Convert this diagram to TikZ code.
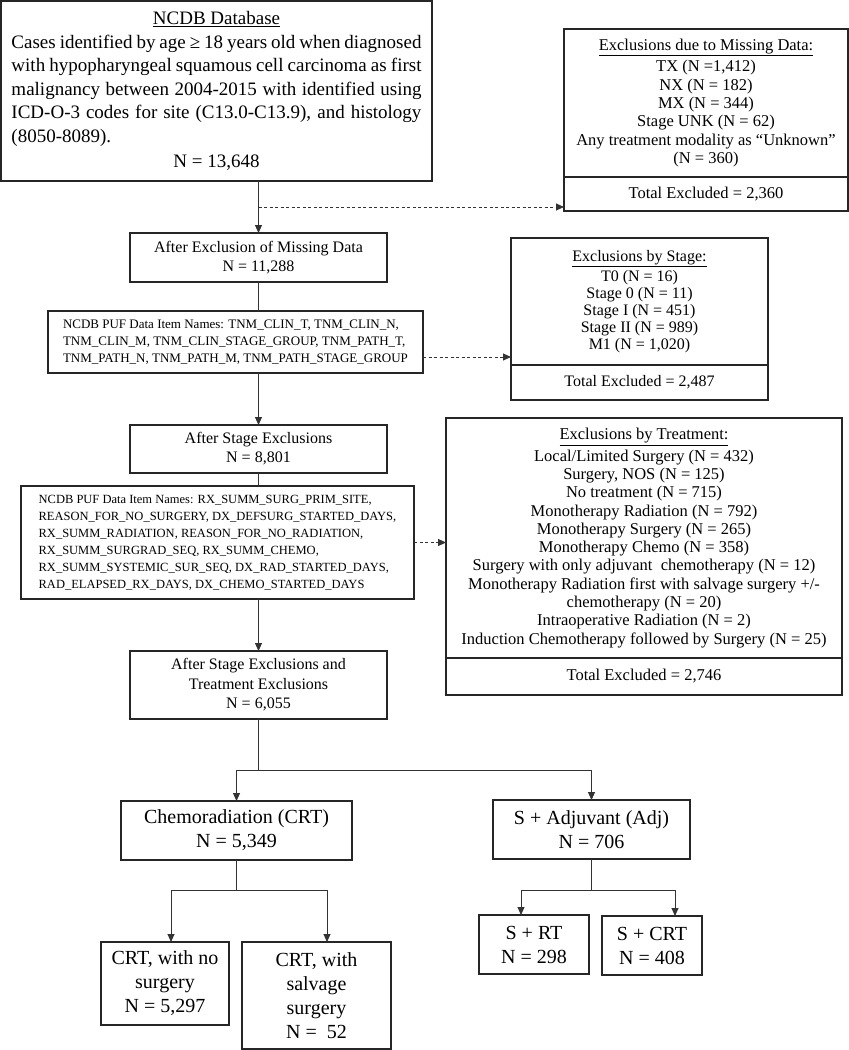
\documentclass[tikz,border=0pt]{standalone}
\usepackage{fontspec}
\setmainfont{Liberation Serif}
\usetikzlibrary{arrows.meta, positioning, calc}

\begin{document}
\begin{tikzpicture}[
    x=1pt, y=-1pt,
    box/.style={
        draw=black!85,
        line width=1.3pt,
        align=center,
        inner sep=0pt,
        outer sep=0pt
    },
    bigfont/.style={font=\fontsize{20}{24}\selectfont},
    midfont/.style={font=\fontsize{16}{19}\selectfont},
    exfont/.style={font=\fontsize{16.5}{18.3}\selectfont},
    pufbox/.style={
        box,
        align=left,
        font=\fontsize{12.5}{17}\selectfont
    },
    arrow/.style={
        line width=0.9pt,
        draw=black!80,
        -{Triangle[length=8pt, width=7pt]}
    },
    connect/.style={
        line width=0.9pt,
        draw=black!80
    },
    dashline/.style={
        line width=0.9pt,
        draw=black!80,
        dash pattern=on 3pt off 2.5pt,
        -{Triangle[length=8pt, width=7pt]}
    }
]

\useasboundingbox (0,0) rectangle (849,1050);

% Start population
\node[box, text width=410pt, inner xsep=10.5pt, minimum height=180pt,
    font=\fontsize{19}{23.5}\selectfont, align=justify] (db) at (216.5,91) {%
    \hyphenpenalty=10000 \exhyphenpenalty=10000
    {\centering\underline{NCDB Database}\par}
    Cases identified by age ≥ 18 years old when diagnosed\linebreak
    with hypopharyngeal squamous cell carcinoma as first\linebreak
    malignancy between 2004-2015 with identified using\linebreak
    ICD-O-3 codes for site (C13.0-C13.9), and histology\linebreak
    (8050-8089).\par\vspace{2pt}
    {\centering N = 13,648\par}};

% Exclusion boxes (right column)
\node[box, exfont, minimum width=284pt, minimum height=148pt] (miss) at (706,103) {\underline{Exclusions due to Missing Data:}\\[3pt]
    TX (N =1,412)\\ NX (N = 182)\\ MX (N = 344)\\ Stage UNK (N = 62)\\
    Any treatment modality as “Unknown”\\ (N = 360)};
\node[box, exfont, minimum width=284pt, minimum height=34pt, below=0pt of miss] (misstot) {Total Excluded = 2,360};

\node[box, font=\fontsize{16}{17}\selectfont, minimum width=257pt, minimum height=127pt] (stage) at (639.5,301.5) {\underline{Exclusions by Stage:}\\[3pt]
    T0 (N = 16)\\ Stage 0 (N = 11)\\ Stage I (N = 451)\\ Stage II (N = 989)\\ M1 (N = 1,020)};
\node[box, font=\fontsize{16}{17}\selectfont, minimum width=257pt, minimum height=35pt, below=0pt of stage] (stagetot) {Total Excluded = 2,487};

\node[box, exfont, minimum width=396pt, minimum height=240pt] (treat) at (644,538) {\underline{Exclusions by Treatment:}\\[3pt]
    Local/Limited Surgery (N = 432)\\ Surgery, NOS (N = 125)\\ No treatment (N = 715)\\
    Monotherapy Radiation (N = 792)\\ Monotherapy Surgery (N = 265)\\ Monotherapy Chemo (N = 358)\\
    Surgery with only adjuvant\ \ chemotherapy (N = 12)\\
    Monotherapy Radiation first with salvage surgery +/-\\ chemotherapy (N = 20)\\
    Intraoperative Radiation (N = 2)\\ Induction Chemotherapy followed by Surgery (N = 25)};
\node[box, exfont, minimum width=396pt, minimum height=37pt, below=0pt of treat] (treattot) {Total Excluded = 2,746};

% Main column
\node[box, midfont, minimum width=257pt, minimum height=49pt] (aftmiss) at (258.5,257.5) {After Exclusion of Missing Data\\ N = 11,288};

\node[pufbox, font=\fontsize{13}{17}\selectfont, minimum width=375pt, minimum height=62pt] (puf1) at (235.5,342) {NCDB PUF Data Item Names: TNM\_CLIN\_T, TNM\_CLIN\_N,\\
    TNM\_CLIN\_M, TNM\_CLIN\_STAGE\_GROUP, TNM\_PATH\_T,\\
    TNM\_PATH\_N, TNM\_PATH\_M, TNM\_PATH\_STAGE\_GROUP};

\node[box, midfont, minimum width=257pt, minimum height=48pt] (aftstage) at (258.5,449) {After Stage Exclusions\\ N = 8,801};

\node[pufbox, minimum width=393pt, minimum height=113pt] (puf2) at (217.5,542.5) {NCDB PUF Data Item Names: RX\_SUMM\_SURG\_PRIM\_SITE,\\
    REASON\_FOR\_NO\_SURGERY, DX\_DEFSURG\_STARTED\_DAYS,\\
    RX\_SUMM\_RADIATION, REASON\_FOR\_NO\_RADIATION,\\
    RX\_SUMM\_SURGRAD\_SEQ, RX\_SUMM\_CHEMO,\\
    RX\_SUMM\_SYSTEMIC\_SUR\_SEQ, DX\_RAD\_STARTED\_DAYS,\\
    RAD\_ELAPSED\_RX\_DAYS, DX\_CHEMO\_STARTED\_DAYS};

\node[box, font=\fontsize{16}{19.5}\selectfont, minimum width=257pt, minimum height=68pt] (final) at (258.5,685) {After Stage Exclusions and\\ Treatment Exclusions\\ N = 6,055};

% Treatment groups
\node[box, bigfont, minimum width=231pt, minimum height=59pt] (crt) at (236.5,830.5) {Chemoradiation (CRT)\\ N = 5,349};
\node[box, bigfont, minimum width=197pt, minimum height=59pt] (adj) at (591.5,829.5) {S + Adjuvant (Adj)\\ N = 706};

\node[box, bigfont, minimum width=128pt, minimum height=83pt] (crtno) at (165,983.5) {CRT, with no\\ surgery\\ N = 5,297};
\node[box, bigfont, minimum width=149pt, minimum height=107pt] (crtsalv) at (316.5,995.5) {CRT, with\\ salvage\\ surgery\\ N =\ \ 52};
\node[box, bigfont, minimum width=110pt, minimum height=59pt] (srt) at (534,944.5) {S + RT\\ N = 298};
\node[box, bigfont, minimum width=100pt, minimum height=59pt] (scrt) at (652,945.5) {S + CRT\\ N = 408};

% Main flow
\draw[arrow] (db.south -| aftmiss.north) -- (aftmiss.north);
\coordinate (split1) at ($(db.south -| aftmiss.north)+(0,26)$);
\draw[dashline] (split1) -- (split1 -| misstot.west);

\draw[connect] (aftmiss.south) -- (aftmiss.south |- puf1.north);
\draw[arrow] (aftstage.north |- puf1.south) -- (aftstage.north);
\coordinate (split2) at ($(puf1.east)+(0,15)$);
\draw[dashline] (split2) -- (split2 -| stage.west);

\draw[connect] (aftstage.south) -- (aftstage.south |- puf2.north);
\draw[arrow] (final.north |- puf2.south) -- (final.north);
\draw[dashline] (puf2.east) -- (puf2.east -| treat.west);

% Split into treatment groups
\coordinate (fork1) at ($(final.south)+(0,51)$);
\draw[connect] (final.south) -- (fork1);
\draw[arrow] (fork1) -| (crt.north);
\draw[arrow] (fork1) -| (adj.north);

\coordinate (fork2) at ($(crt.south)+(0,30)$);
\draw[connect] (crt.south) -- (fork2);
\draw[arrow] (fork2) -| ([xshift=6pt]crtno.north);
\draw[arrow] (fork2) -| ([xshift=10.5pt]crtsalv.north);

\coordinate (fork3) at ($(adj.south)+(0,31)$);
\draw[connect] (adj.south) -- (fork3);
\draw[arrow] (fork3) -| ([xshift=-13pt]srt.north);
\draw[arrow] (fork3) -| ([xshift=23pt]scrt.north);

\end{tikzpicture}
\end{document}
